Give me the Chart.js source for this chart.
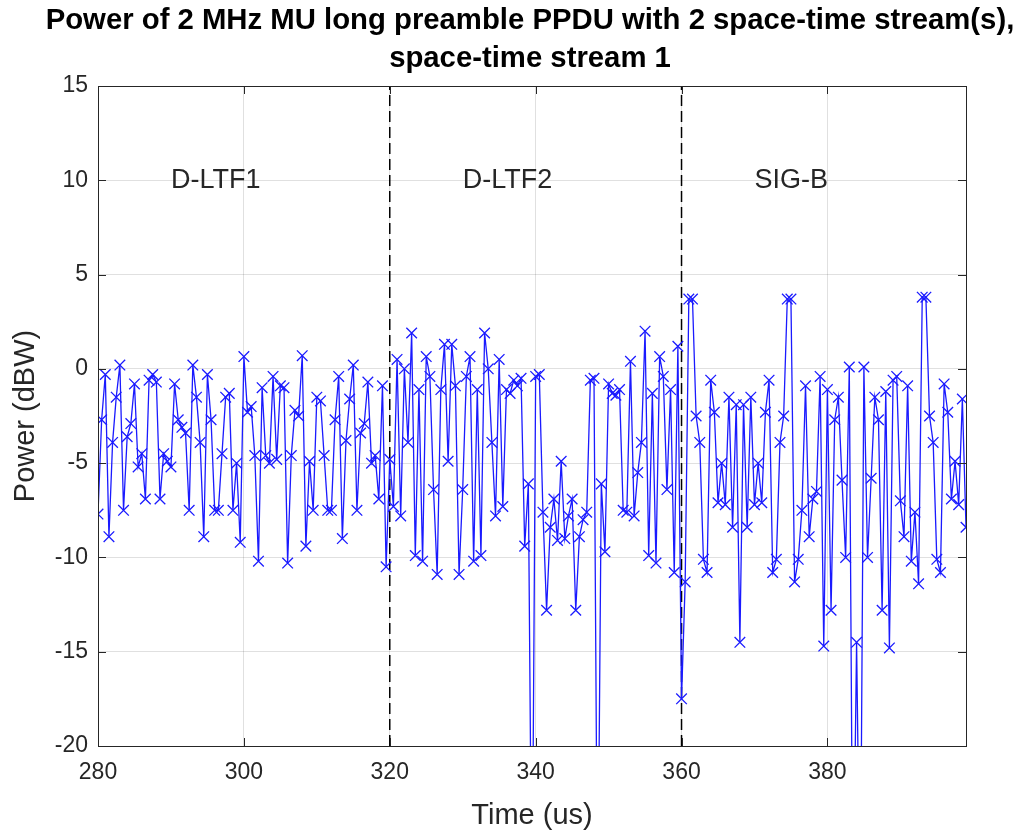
<!DOCTYPE html>
<html><head><meta charset="utf-8">
<script src="https://cdn.jsdelivr.net/npm/chart.js@4/dist/chart.umd.min.js"></script>
<style>html,body{margin:0;padding:0;background:#fff;}#wrap{width:1018px;height:831px;position:relative;}</style>
</head><body><div id="wrap"><canvas id="c" width="1018" height="831"></canvas></div>
<script>
// ---- data ----
const startTime = 280;      // us
const sampleStep = 0.5;     // us (2 MHz sampling)
const dltf1Power = [
  -7.7, -2.7, -0.3, -8.9, -3.9, -1.5, 0.2, -7.5, -3.6, -2.9,
  -0.8, -5.2, -4.5, -6.9, -0.6, -0.3, -0.7, -6.9, -4.5, -4.9,
  -5.2, -0.8, -2.7, -3.1, -3.4, -7.5, 0.2, -1.5, -3.9, -8.9,
  -0.3, -2.7, -7.5, -7.5, -4.5, -1.5, -1.3, -7.5, -5.0, -9.2,
  0.65, -2.3, -2.0, -4.6, -10.2, -1.0, -4.6, -5.0, -0.4, -4.8,
  -0.9, -1.0, -10.3, -4.6, -2.2, -2.5, 0.7, -9.4, -4.9, -7.5,
  -1.5, -1.7, -4.6, -7.5, -7.5, -2.7, -0.4, -9.0, -3.8, -1.6,
  0.2, -7.5, -3.4, -2.9, -0.7, -5.0, -4.6, -6.9, -0.9, -10.5
];
const dltf2Power = [
  -4.8, -7.3, 0.5, -7.8, 0.0, -3.9, 1.9, -9.9, -1.1, -10.2,
  0.65, -0.4, -6.4, -10.9, -1.1, 1.3, -4.9, 1.3, -0.9, -10.9,
  -6.4, -0.4, 0.65, -10.2, -1.1, -9.9, 1.9, 0.0, -3.9, -7.8,
  0.5, -7.3, -1.1, -1.3, -0.6, -0.9, -0.5, -9.4, -6.1, -30,
  -0.4, -0.3, -7.6, -12.8, -8.4, -6.9, -9.1, -4.9, -9.0, -7.8,
  -6.9, -12.8, -8.9, -8.0, -7.6, -0.6, -0.5, -30, -6.1, -9.7,
  -0.8, -1.3, -1.4, -1.1, -7.5, -7.6, 0.4, -7.8, -5.5, -3.9,
  2.0, -9.9, -1.3, -10.3, 0.65, -0.4, -6.4, -1.1, -10.8, 1.2
];
const sigbPower = [
  -17.5, -11.3, 3.7, 3.7, -2.5, -3.9, -10.1, -10.8, -0.6, -2.3,
  -7.1, -5.0, -7.2, -1.5, -8.4, -1.9, -14.5, -1.9, -8.4, -1.5,
  -7.2, -5.0, -7.1, -2.3, -0.6, -10.8, -10.1, -3.9, -2.5, 3.7,
  3.7, -11.3, -10.1, -7.5, -0.9, -8.9, -6.9, -6.5, -0.4, -14.7,
  -1.1, -12.8, -2.7, -1.5, -5.9, -10.0, 0.1, -30, -14.5, -30,
  0.1, -10.0, -5.8, -1.5, -2.7, -12.8, -1.2, -14.8, -0.6, -0.4,
  -7.0, -8.9, -0.9, -10.2, -7.6, -11.4, 3.8, 3.8, -2.5, -3.9,
  -10.1, -10.8, -0.8, -2.3, -6.9, -4.9, -7.2, -1.6, -8.4
];
const titleLines = ['Power of 2 MHz MU long preamble PPDU with 2 space-time stream(s),', 'space-time stream 1'];
const fieldNames = ['D-LTF1', 'D-LTF2', 'SIG-B'];
const fieldLabelTimes = [290, 330, 370];
const fieldLabelLevel = 10;
const boundaryTimes = [320, 360];
const xTickValues = [280, 300, 320, 340, 360, 380];
const yTickValues = [-20, -15, -10, -5, 0, 5, 10, 15];
const xRange = [280, 399];
const yRange = [-20, 15];

// ---- build ----
const powerDbw = dltf1Power.concat(dltf2Power, sigbPower);
const points = powerDbw.map((p, i) => ({ x: startTime + i * sampleStep, y: p }));
const FONT = "'Liberation Sans', Arial, Helvetica, sans-serif";
const AX = '#262626';
Chart.defaults.font.family = FONT;

const boundaryDatasets = boundaryTimes.map(b => ({
  data: [{ x: b, y: yRange[0] }, { x: b, y: yRange[1] }],
  borderColor: '#000000', borderWidth: 1.5, borderDash: [11, 5],
  pointRadius: 0, fill: false
}));

const framePlugin = {
  id: 'framePlugin',
  afterDatasetsDraw(chart) {
    const { ctx, chartArea: a, scales: { x, y } } = chart;
    ctx.save();
    ctx.strokeStyle = AX; ctx.lineWidth = 1;
    ctx.strokeRect(Math.round(a.left) + 0.5, Math.round(a.top) + 0.5,
      Math.round(a.right - a.left), Math.round(a.bottom - a.top));
    ctx.beginPath();
    const tl = 8;
    xTickValues.forEach(v => {
      const px = Math.round(x.getPixelForValue(v)) + 0.5;
      ctx.moveTo(px, a.bottom); ctx.lineTo(px, a.bottom - tl);
      ctx.moveTo(px, a.top); ctx.lineTo(px, a.top + tl);
    });
    yTickValues.forEach(v => {
      const py = Math.round(y.getPixelForValue(v)) + 0.5;
      ctx.moveTo(a.left, py); ctx.lineTo(a.left + tl, py);
      ctx.moveTo(a.right, py); ctx.lineTo(a.right - tl, py);
    });
    ctx.stroke();
    ctx.fillStyle = AX;
    ctx.font = '27px ' + FONT;
    ctx.textAlign = 'left'; ctx.textBaseline = 'middle';
    fieldNames.forEach((n, i) => {
      ctx.fillText(n, x.getPixelForValue(fieldLabelTimes[i]), y.getPixelForValue(fieldLabelLevel));
    });
    // title, centred over the plot area
    ctx.fillStyle = '#000000';
    ctx.font = 'bold 29.3px ' + FONT;
    ctx.textAlign = 'center';
    const cx = (a.left + a.right) / 2 - 2;
    titleLines.forEach((t, i) => ctx.fillText(t, cx, 21 + i * 38));
    ctx.restore();
  }
};

new Chart(document.getElementById('c'), {
  type: 'line',
  data: {
    datasets: [{
      data: points,
      borderColor: '#1a1aff', borderWidth: 1.3,
      pointStyle: 'crossRot', pointRadius: 7.5, pointBorderColor: '#1a1aff',
      pointBorderWidth: 1.3, pointBackgroundColor: '#1a1aff', tension: 0, fill: false
    }, ...boundaryDatasets]
  },
  options: {
    responsive: false, animation: false, devicePixelRatio: 1,
    layout: { padding: { left: 0, right: 52, top: 86, bottom: 0 } },
    plugins: {
      legend: { display: false },
      tooltip: { enabled: false },
      title: { display: false }
    },
    scales: {
      x: {
        type: 'linear', min: xRange[0], max: xRange[1],
        afterFit: s => { s.height = 85; },
        afterBuildTicks: s => { s.ticks = xTickValues.map(v => ({ value: v })); },
        ticks: { color: AX, font: { size: 23 }, padding: 13, autoSkip: false, maxRotation: 0 },
        grid: { color: 'rgba(0,0,0,0.12)', drawTicks: false },
        border: { display: false },
        title: { display: true, text: 'Time (us)', color: AX, font: { size: 29 }, padding: { top: 0, bottom: -2 } }
      },
      y: {
        type: 'linear', min: yRange[0], max: yRange[1],
        afterFit: s => { s.width = 98; },
        afterBuildTicks: s => { s.ticks = yTickValues.map(v => ({ value: v })); },
        ticks: { color: AX, font: { size: 23 }, padding: 10 },
        grid: { color: 'rgba(0,0,0,0.12)', drawTicks: false },
        border: { display: false },
        title: { display: true, text: 'Power (dBW)', color: AX, font: { size: 29 }, padding: { top: 9, bottom: 0 } }
      }
    }
  },
  plugins: [framePlugin]
});
</script></body></html>
